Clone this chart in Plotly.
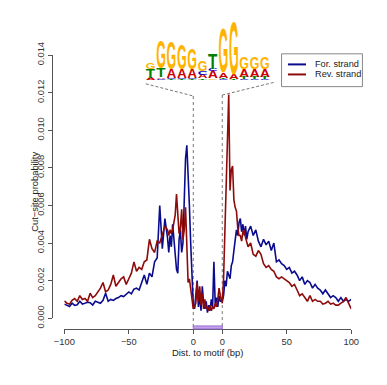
import json
import plotly.graph_objects as go

# The page keeps the browser's 8px body margin, so the figure is drawn 8px smaller
# on each side and every reference pixel position is shifted by OFF.
W, H = 371, 369
OFF = 8

# ---------------- data ----------------
dist_left = list(range(-100, -20, 2)) + list(range(-20, 1))
dist_right = list(range(0, 21)) + list(range(22, 101, 2))
motif_pos = list(range(1, 22))          # positions inside the motif window
MOTIF_SPAN = 22.5                        # width of the motif window on the axis

for_left = [.00075, .0007, .00062, .0008, .00068, .00072, .0009, .00075, .0008, .00085,
            .00083, .0007, .0009, .00085, .0008, .00095, .00133, .0009, .001, .00095,
            .00105, .0011, .0012, .00115, .0013, .0014, .0013, .00155, .0016, .0015,
            .0019, .0023, .0018, .0024, .0022, .0030, .0032, .0060, .0037, .0053,
            .0043, .0035, .0044, .0038, .0050, .0043, .0035, .0026, .0024, .0042,
            .0047, .0035, .0040, .0065, .0085, .0092, .0078, .0060, .0040, .0018, .0007]
rev_left = [.00092, .0008, .00075, .00095, .00105, .0009, .0012, .001, .00105, .0009,
            .00133, .0011, .0012, .0014, .0016, .0019, .0014, .0015, .0018, .0023,
            .0017, .0019, .0021, .0022, .0018, .0021, .0024, .0030, .0025, .0027,
            .0026, .0030, .0031, .0042, .0037, .0035, .0041, .0040, .0044, .0049,
            .0047, .0044, .0047, .0045, .0047, .0052, .0055, .0066, .0052, .0045,
            .0048, .0058, .0042, .0047, .0059, .0038, .0019, .0021, .0015, .0009, .0005]
for_motif = [.0005, .0012, .0020, .0006, .0012, .0004, .0017, .0008, .0005, .0009, .0003,
             .0007, .0004, .0010, .0006, .0030, .0008, .0011, .0006, .0012, .0009]
rev_motif = [.0006, .0008, .0019, .0009, .0017, .0007, .0013, .0005, .0010, .0005, .0006,
             .0004, .0007, .0004, .0006, .0005, .0008, .0006, .0010, .0016, .0012]
for_right = [.0009, .0012, .0020, .0017, .0025, .0023, .0021, .0028, .0030, .0036, .0041,
             .0047, .0044, .0051, .0053, .0046, .0050, .0044, .0049, .0042, .0046,
             .0049, .0044, .0047, .0041, .0038, .0042, .0039, .0041, .0036, .0040,
             .0030, .0031, .0029, .0028, .0026, .0027, .0024, .0025, .0023, .0020,
             .0022, .0018, .0020, .0019, .0016, .0018, .0016, .0015, .0013, .0015,
             .0013, .0011, .0012, .0011, .0009, .0011, .0009, .0010, .0009, .0010]
rev_right = [.0008, .0021, .0045, .0072, .0096, .0119, .0068, .0079, .0081, .0063, .0059,
             .0057, .0048, .0044, .0044, .0041, .0046, .0047, .0043, .0040, .0038,
             .0040, .0034, .0033, .0036, .0034, .0029, .0027, .0028, .0026, .0025,
             .0022, .0021, .0022, .0021, .0020, .0019, .0017, .0018, .0015, .0012,
             .0013, .0011, .0009, .0012, .0009, .0010, .0009, .0009, .00075, .0008,
             .0009, .00075, .0008, .0007, .0007, .0008, .0009, .0011, .0008, .0005]

x_tick_dist = [-100, -50, 0, 0, 50, 100]
x_tick_side = ["L", "L", "L", "R", "R", "R"]
x_tick_text = ["\u2212100", "\u221250", "0", "0", "50", "100"]
y_tick_vals = [0, 0.002, 0.004, 0.006, 0.008, 0.010, 0.012, 0.014]

# sequence logo (bottom -> top in each column), heights in bits
logo_letters = [
    ["A", "T", "G"],
    ["C", "A", "T", "G"],
    ["T", "C", "A", "G"],
    ["T", "C", "A", "G"],
    ["T", "C", "A", "G"],
    ["T", "A", "C", "G"],
    ["G", "A", "C", "T"],
    ["C", "T", "A", "G"],
    ["T", "A", "G"],
    ["C", "T", "A", "G"],
    ["C", "T", "A", "G"],
    ["C", "T", "A", "G"],
]
logo_heights = [
    [0.08, 0.28, 0.20],
    [0.04, 0.05, 0.28, 0.87],
    [0.04, 0.04, 0.28, 0.88],
    [0.04, 0.04, 0.28, 0.80],
    [0.04, 0.04, 0.27, 0.68],
    [0.05, 0.12, 0.12, 0.34],
    [0.05, 0.24, 0.06, 0.49],
    [0.04, 0.04, 0.16, 1.43],
    [0.03, 0.15, 1.67],
    [0.04, 0.06, 0.26, 0.36],
    [0.04, 0.06, 0.26, 0.36],
    [0.04, 0.06, 0.24, 0.36],
]
letter_colors = {"A": "#CC0000", "C": "#0000CC", "G": "#FFB300", "T": "#008000"}

# ---------------- layout geometry (reference px) ----------------
X_L, X_R = 56.7, 358.2        # x-axis from -100 to +100
Y_T, Y_B = 44.3, 325.0        # y-axis from 0.014 to 0
XAX_Y = 336.7                 # x axis line
YAX_X = 43.3                  # y axis line
LOGO_BASE, LOGO_TOP = 71.0, 8.0
PX_PER_BIT = 34.0
XMIN, XMAX = -100, 100 + MOTIF_SPAN


def px2x(p):
    return (p - OFF) / W


def px2y(p):
    return 1 - (p - OFF) / H


def xdata2px(v):
    return X_L + (v - XMIN) * (X_R - X_L) / (XMAX - XMIN)


FONT = "Liberation Sans, Arial, sans-serif"
BLUE = "#0b0b8e"
RED = "#8e0b0b"

x_all = dist_left + motif_pos + [d + MOTIF_SPAN for d in dist_right]
y_for = for_left + for_motif + for_right
y_rev = rev_left + rev_motif + rev_right

fig = go.Figure()
fig.add_trace(go.Scatter(x=x_all, y=y_for, mode="lines", name="For. strand",
                         line=dict(color=BLUE, width=1.6), showlegend=False))
fig.add_trace(go.Scatter(x=x_all, y=y_rev, mode="lines", name="Rev. strand",
                         line=dict(color=RED, width=1.6), showlegend=False))

tickvals = [d if s == "L" else d + MOTIF_SPAN for d, s in zip(x_tick_dist, x_tick_side)]

annotations = []
boxes = []
for ci, (lets, hs) in enumerate(zip(logo_letters, logo_heights)):
    col = ci + 1
    base = 0.0
    for L, h in zip(lets, hs):
        idx = len(annotations)
        annotations.append(dict(
            x=col, y=base, xref="x2", yref="y2", text=L, showarrow=False,
            xanchor="center", yanchor="bottom", borderpad=0,
            font=dict(family=FONT, size=14, color=letter_colors[L], weight="bold")))
        boxes.append([idx, col - 0.47, col + 0.47, base, base + h])
        base += h

annotations.append(dict(x=px2x((X_L + X_R) / 2), y=px2y(362), xref="paper", yref="paper",
                        text="Dist. to motif (bp)", showarrow=False, borderpad=0,
                        xanchor="center", yanchor="middle",
                        font=dict(family=FONT, size=9.4, color="#222")))
annotations.append(dict(x=px2x(25), y=px2y(190), xref="paper", yref="paper",
                        text="Cut\u2212site probability", showarrow=False, textangle=-90,
                        xanchor="center", yanchor="middle",
                        font=dict(family=FONT, size=9.4, color="#222")))
for name, py in [("For. strand", 54.3), ("Rev. strand", 65.0)]:
    annotations.append(dict(x=px2x(318.5), y=px2y(py), xref="paper", yref="paper",
                            text=name, showarrow=False, xanchor="left", yanchor="middle",
                            font=dict(family=FONT, size=9.2, color="#222")))

b0 = xdata2px(0)
b1 = xdata2px(MOTIF_SPAN)
shapes = [
    # legend
    dict(type="rect", xref="paper", yref="paper", x0=px2x(285), x1=px2x(370),
         y0=px2y(78), y1=px2y(43), line=dict(color="#888", width=1)),
    dict(type="line", xref="paper", yref="paper", x0=px2x(291.7), x1=px2x(310.7),
         y0=px2y(54.3), y1=px2y(54.3), line=dict(color=BLUE, width=2)),
    dict(type="line", xref="paper", yref="paper", x0=px2x(291.7), x1=px2x(310.7),
         y0=px2y(65), y1=px2y(65), line=dict(color=RED, width=2)),
    # connectors from logo to motif window
    dict(type="line", xref="paper", yref="paper", x0=px2x(142.3), y0=px2y(75),
         x1=px2x(b0), y1=px2y(88), line=dict(color="#777", width=1, dash="3px,2px")),
    dict(type="line", xref="paper", yref="paper", x0=px2x(276.7), y0=px2y(73.5),
         x1=px2x(b1), y1=px2y(87), line=dict(color="#777", width=1, dash="3px,2px")),
    dict(type="line", xref="x", yref="paper", x0=0, x1=0, y0=px2y(88), y1=px2y(XAX_Y),
         line=dict(color="#777", width=1, dash="dot"), layer="below"),
    dict(type="line", xref="x", yref="paper", x0=MOTIF_SPAN, x1=MOTIF_SPAN, y0=px2y(87),
         y1=px2y(XAX_Y), line=dict(color="#777", width=1, dash="dot"), layer="below"),
    # motif bar
    dict(type="rect", xref="x", yref="paper", x0=0, x1=MOTIF_SPAN, y0=px2y(336.4),
         y1=px2y(333.2), fillcolor="#c2a0ec", line=dict(color="#9a6fd6", width=1)),
]

fig.update_layout(
    width=W, height=H, margin=dict(l=0, r=0, t=0, b=0),
    paper_bgcolor="white", plot_bgcolor="white", showlegend=False,
    font=dict(family=FONT, color="#222"),
    xaxis=dict(domain=[px2x(X_L), px2x(X_R)], range=[XMIN, XMAX], anchor="free",
               position=px2y(XAX_Y), showline=True, linecolor="#555", linewidth=1,
               ticks="outside", ticklen=4, tickcolor="#555", tickvals=tickvals,
               ticktext=x_tick_text, tickfont=dict(size=9.3, color="#333"),
               showgrid=False, zeroline=False),
    yaxis=dict(domain=[px2y(Y_B), px2y(Y_T)], range=[0, 0.014], anchor="free",
               position=px2x(YAX_X), showline=True, linecolor="#555", linewidth=1,
               ticks="outside", ticklen=4, tickcolor="#555", tickvals=y_tick_vals,
               ticktext=["%.3f" % v for v in y_tick_vals], tickangle=-90,
               tickfont=dict(size=9.3, color="#333"), showgrid=False, zeroline=False),
    xaxis2=dict(domain=[px2x(142), px2x(273)], range=[0.5, len(logo_letters) + 0.5],
                anchor="y2", visible=False),
    yaxis2=dict(domain=[px2y(LOGO_BASE), px2y(LOGO_TOP)],
                range=[0, (LOGO_BASE - LOGO_TOP) / PX_PER_BIT], anchor="x2", visible=False),
    annotations=annotations, shapes=shapes,
)

post = """
var gd = document.getElementById('{plot_id}');
var BOXES = %s;
function fitLogo(){
  var fl = gd._fullLayout, xa = fl.xaxis2, ya = fl.yaxis2;
  if(!xa || !ya) return;
  var ctx = document.createElement('canvas').getContext('2d');
  BOXES.forEach(function(b){
    var g = gd.querySelector('g.annotation[data-index="' + b[0] + '"]');
    if(!g) return;
    var t = g.querySelector('text.annotation-text');
    if(!t) return;
    t.removeAttribute('transform');
    var cs = window.getComputedStyle(t);
    ctx.font = cs.fontWeight + ' ' + cs.fontSize + ' ' + cs.fontFamily;
    var m = ctx.measureText(t.textContent);
    var x = parseFloat(t.getAttribute('x')) || 0;
    var y = parseFloat(t.getAttribute('y')) || 0;
    var anc = t.getAttribute('text-anchor') || 'start';
    var st = anc === 'middle' ? x - m.width / 2 : (anc === 'end' ? x - m.width : x);
    var L = st - m.actualBoundingBoxLeft, R = st + m.actualBoundingBoxRight;
    var T = y - m.actualBoundingBoxAscent, B = y + m.actualBoundingBoxDescent;
    var ctm = t.getCTM();
    var X0 = xa._offset + xa.l2p(b[1]), X1 = xa._offset + xa.l2p(b[2]);
    var Y0 = ya._offset + ya.l2p(b[4]), Y1 = ya._offset + ya.l2p(b[3]);
    var lx0 = (X0 - ctm.e) / ctm.a, lx1 = (X1 - ctm.e) / ctm.a;
    var ly0 = (Y0 - ctm.f) / ctm.d, ly1 = (Y1 - ctm.f) / ctm.d;
    var sx = (lx1 - lx0) / (R - L), sy = (ly1 - ly0) / (B - T);
    var tx = lx0 - sx * L, ty = ly0 - sy * T;
    t.setAttribute('transform', 'matrix(' + [sx, 0, 0, sy, tx, ty].join(',') + ')');
  });
}
fitLogo();
gd.on('plotly_afterplot', fitLogo);
""" % json.dumps(boxes)

fig.write_html("out.html", post_script=post, config={"displayModeBar": False})
